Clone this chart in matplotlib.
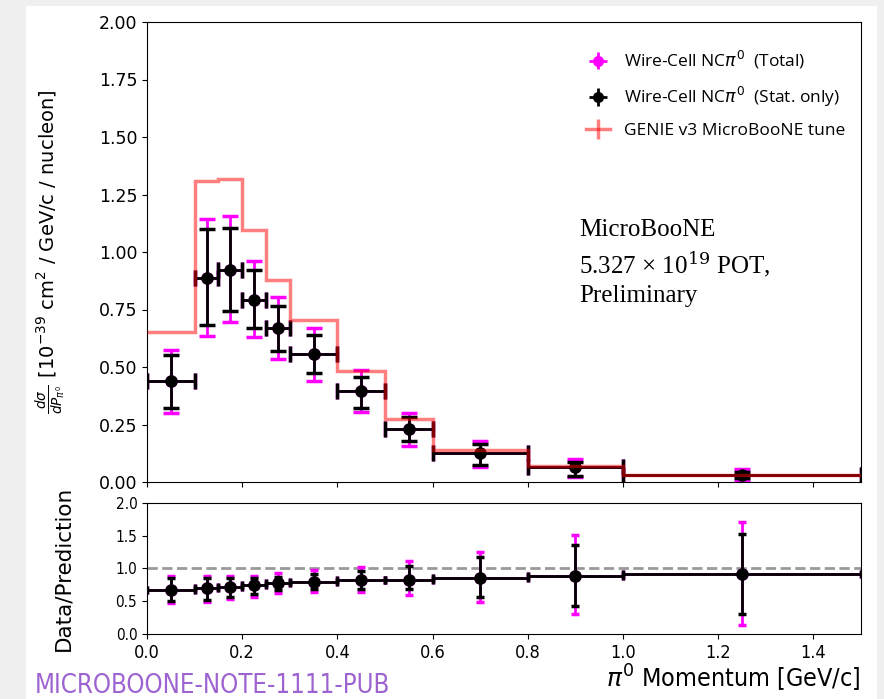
import numpy as np
import matplotlib
matplotlib.use('Agg')
import matplotlib.pyplot as plt
from matplotlib.lines import Line2D
from matplotlib.patches import Rectangle

# bin edges in pi0 momentum [GeV/c]
edges = [0.0, 0.1, 0.15, 0.2, 0.25, 0.3, 0.4, 0.5, 0.6, 0.8, 1.0, 1.5]

# data cross section and errors
xsec = [0.439, 0.887, 0.922, 0.791, 0.670, 0.556, 0.396, 0.230, 0.126, 0.065, 0.030]
stat_up = [0.552, 1.100, 1.104, 0.922, 0.765, 0.639, 0.457, 0.283, 0.165, 0.087, 0.043]
stat_lo = [0.320, 0.683, 0.743, 0.670, 0.570, 0.474, 0.322, 0.178, 0.074, 0.026, 0.017]
tot_up = [0.574, 1.143, 1.157, 0.961, 0.804, 0.670, 0.487, 0.300, 0.178, 0.100, 0.056]
tot_lo = [0.300, 0.635, 0.696, 0.630, 0.535, 0.439, 0.304, 0.157, 0.065, 0.022, 0.004]

# GENIE v3 MicroBooNE tune prediction
genie = [0.652, 1.309, 1.317, 1.096, 0.878, 0.704, 0.483, 0.274, 0.137, 0.068, 0.032]

# data / prediction
ratio = [0.67, 0.70, 0.72, 0.74, 0.77, 0.79, 0.82, 0.83, 0.86, 0.88, 0.91]
r_stat_up = [0.85, 0.85, 0.85, 0.85, 0.87, 0.91, 0.96, 1.03, 1.18, 1.35, 1.53]
r_stat_lo = [0.50, 0.52, 0.56, 0.61, 0.67, 0.68, 0.68, 0.68, 0.56, 0.43, 0.30]
r_tot_up = [0.88, 0.88, 0.88, 0.88, 0.93, 0.97, 1.02, 1.11, 1.25, 1.51, 1.70]
r_tot_lo = [0.47, 0.49, 0.53, 0.56, 0.62, 0.64, 0.64, 0.59, 0.48, 0.31, 0.14]

edges = np.array(edges)
centers = (edges[:-1] + edges[1:]) / 2
halfw = (edges[1:] - edges[:-1]) / 2
xsec = np.array(xsec)
ratio = np.array(ratio)

narrow = dict(family=['Liberation Sans Narrow', 'DejaVu Sans'], stretch='condensed')

fig = plt.figure(figsize=(8.84, 6.99), dpi=100)
fig.patch.set_facecolor('#f0f0f0')
fig.patches.append(Rectangle((26/884, 0), (877-26)/884, 1 - 6/699, transform=fig.transFigure,
                             facecolor='white', edgecolor='none', zorder=-10))

ax = fig.add_axes([147/884, 1 - 482/699, (861-147)/884, (482-22)/699])
axr = fig.add_axes([147/884, 1 - 634/699, (861-147)/884, (634-502.7)/699])

# top panel
ax.errorbar(centers, xsec, xerr=halfw,
            yerr=[xsec - np.array(tot_lo), np.array(tot_up) - xsec],
            fmt='o', color='magenta', ms=8, elinewidth=2, capsize=6, capthick=2.5, zorder=2)
ax.errorbar(centers, xsec, xerr=halfw,
            yerr=[xsec - np.array(stat_lo), np.array(stat_up) - xsec],
            fmt='o', color='black', ms=8, elinewidth=2, capsize=6, capthick=2.5, zorder=3)
ax.stairs(genie, edges, color='red', alpha=0.5, lw=2.5, zorder=4, baseline=None)

ax.set_xlim(0, 1.5)
ax.set_ylim(0, 2.0)
ax.set_yticks(np.arange(0, 2.01, 0.25))
ax.set_yticklabels([f'{v:.2f}' for v in np.arange(0, 2.01, 0.25)], fontsize=12.5)
ax.tick_params(axis='x', labelbottom=False)
ax.set_ylabel(r'$\frac{d\sigma}{dP_{\pi^0}}$ [$10^{-39}$ cm$^2$ / GeV/c / nucleon]', fontsize=14,
              labelpad=22)

h1 = ax.errorbar([], [], xerr=[], yerr=[], fmt='o', color='magenta', ms=7, elinewidth=2,
                 capsize=4, capthick=2.5)
h2 = ax.errorbar([], [], xerr=[], yerr=[], fmt='o', color='black', ms=7, elinewidth=2,
                 capsize=4, capthick=2.5)
h3 = Line2D([], [], color='red', alpha=0.5, lw=2.5, marker='|', ms=14, mew=2.5)
ax.legend([h1, h2, h3],
          [r'Wire-Cell NC$\pi^0$  (Total)', r'Wire-Cell NC$\pi^0$  (Stat. only)',
           'GENIE v3 MicroBooNE tune'],
          loc='upper right', frameon=False, handlelength=1.4,
          labelspacing=0.8, bbox_to_anchor=(1.0, 0.975),
          prop={'family': 'Open Sans', 'size': 12.5})

ax.text(0.605, 0.38, 'MicroBooNE\n5.327 × 10$^{19}$ POT,\nPreliminary',
        transform=ax.transAxes, fontsize=18, family='Liberation Serif',
        va='bottom', ha='left', linespacing=1.35, math_fontfamily='dejavuserif')

# ratio panel
axr.axhline(1.0, color='gray', ls='--', lw=2, alpha=0.8, zorder=1)
axr.errorbar(centers, ratio, xerr=halfw,
             yerr=[ratio - np.array(r_tot_lo), np.array(r_tot_up) - ratio],
             fmt='o', color='magenta', ms=8, elinewidth=2, capsize=3, capthick=2.5, zorder=2)
axr.errorbar(centers, ratio, xerr=halfw,
             yerr=[ratio - np.array(r_stat_lo), np.array(r_stat_up) - ratio],
             fmt='o', color='black', ms=8, elinewidth=2, capsize=3, capthick=2.5, zorder=3)
axr.set_xlim(0, 1.5)
axr.set_ylim(0, 2.0)
axr.set_yticks([0, 0.5, 1.0, 1.5, 2.0])
axr.set_yticklabels(['0.0', '0.5', '1.0', '1.5', '2.0'], fontsize=11, **narrow)
axr.set_xticks(np.arange(0, 1.41, 0.2))
axr.set_xticklabels([f'{v:.1f}' for v in np.arange(0, 1.41, 0.2)], fontsize=13, **narrow)
axr.set_ylabel('Data/Prediction', fontsize=15.5, labelpad=30)

fig.text(861/884, 1 - 688/699, r'$\pi^0$ Momentum [GeV/c]', ha='right', va='baseline',
         fontsize=18, **narrow)
fig.text(35/884, 1 - 693/699, 'MICROBOONE-NOTE-1111-PUB', ha='left', va='baseline',
         fontsize=18.5, color='#9d63d0', **narrow)

fig.savefig('out.png', dpi=100, facecolor=fig.get_facecolor())
